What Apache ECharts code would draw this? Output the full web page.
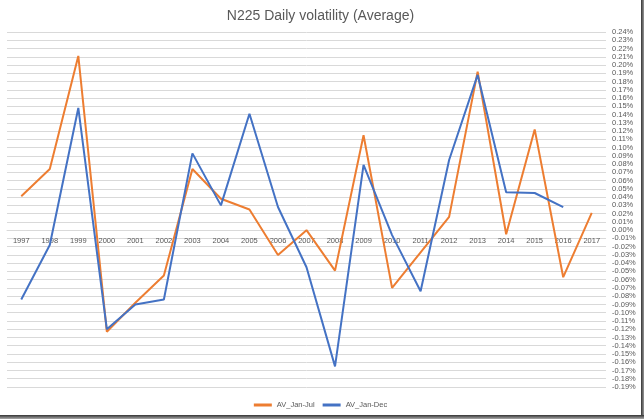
<!DOCTYPE html>
<html>
<head>
<meta charset="utf-8">
<script src="https://cdn.jsdelivr.net/npm/echarts@6/dist/echarts.min.js"></script>
<style>
html,body{margin:0;padding:0;background:#fff;}
#wrap{position:relative;width:644px;height:419px;background:#fff;overflow:hidden;}
#chart{position:absolute;left:0;top:0;width:641px;height:415px;background:#fff;}
#rb{position:absolute;left:641px;top:0;width:3px;height:419px;background:linear-gradient(to right,#333,#999);}
#bb{position:absolute;left:0;top:415px;width:644px;height:4px;background:linear-gradient(to bottom,#333,#aaa);}
</style>
</head>
<body>
<div id="wrap"><div id="chart"></div><div id="rb"></div><div id="bb"></div></div>
<script>
const years = ['1997','1998','1999','2000','2001','2002','2003','2004','2005','2006','2007','2008','2009','2010','2011','2012','2013','2014','2015','2016','2017'];
const avJanJul = [0.041,0.074,0.211,-0.123,-0.088,-0.055,0.074,0.038,0.025,-0.030,0.000,-0.049,0.115,-0.070,-0.027,0.016,0.192,-0.005,0.122,-0.057,0.021];
const avJanDec = [-0.084,-0.018,0.148,-0.120,-0.090,-0.084,0.093,0.030,0.141,0.028,-0.045,-0.165,0.079,-0.006,-0.074,0.085,0.188,0.046,0.045,0.028,null];
const yMin = -0.19, yMax = 0.24, yStep = 0.01;

const gridTop = 32, gridBottom = 28, chartH = 415;
const gridH = chartH - gridTop - gridBottom;
// place category axis on the zero line (as in the original)
const zeroOffset = -gridH * (0 - yMin) / (yMax - yMin);

const chart = echarts.init(document.getElementById('chart'));
chart.setOption({
  animation: false,
  title: {
    text: 'N225 Daily volatility (Average)',
    left: 'center', top: 4,
    textStyle: {fontFamily: 'Liberation Sans', fontSize: 14, fontWeight: 'normal', color: '#595959'}
  },
  legend: {
    bottom: 1, left: 'center', itemWidth: 18, itemHeight: 3, itemGap: 8,
    icon: 'rect',
    textStyle: {fontFamily: 'Liberation Sans', fontSize: 7.5, color: '#595959'},
    data: ['AV_Jan-Jul','AV_Jan-Dec']
  },
  grid: {left: 7, right: 35, top: gridTop, bottom: gridBottom, containLabel: false},
  xAxis: {
    type: 'category', data: years, boundaryGap: true,
    position: 'bottom', offset: zeroOffset,
    axisLine: {show: true, onZero: false, lineStyle: {color: '#d9d9d9', width: 1}},
    axisTick: {show: false},
    axisLabel: {fontFamily: 'Liberation Sans', fontSize: 7.5, color: '#595959', margin: 7, interval: 0},
    splitLine: {show: false}
  },
  yAxis: {
    type: 'value', position: 'right', min: yMin, max: yMax, interval: yStep,
    axisLine: {show: false}, axisTick: {show: false},
    axisLabel: {fontFamily: 'Liberation Sans', fontSize: 7.5, color: '#595959', margin: 6,
      formatter: v => (Math.round(v*100)/100).toFixed(2) + '%'},
    splitLine: {lineStyle: {color: '#d9d9d9', width: 1}}
  },
  series: [
    {name: 'AV_Jan-Jul', type: 'line', data: avJanJul, symbol: 'none', smooth: false,
     lineStyle: {color: '#ED7D31', width: 2}, itemStyle: {color: '#ED7D31'}},
    {name: 'AV_Jan-Dec', type: 'line', data: avJanDec, symbol: 'none', smooth: false,
     lineStyle: {color: '#4472C4', width: 2}, itemStyle: {color: '#4472C4'}}
  ]
});
</script>
</body>
</html>
